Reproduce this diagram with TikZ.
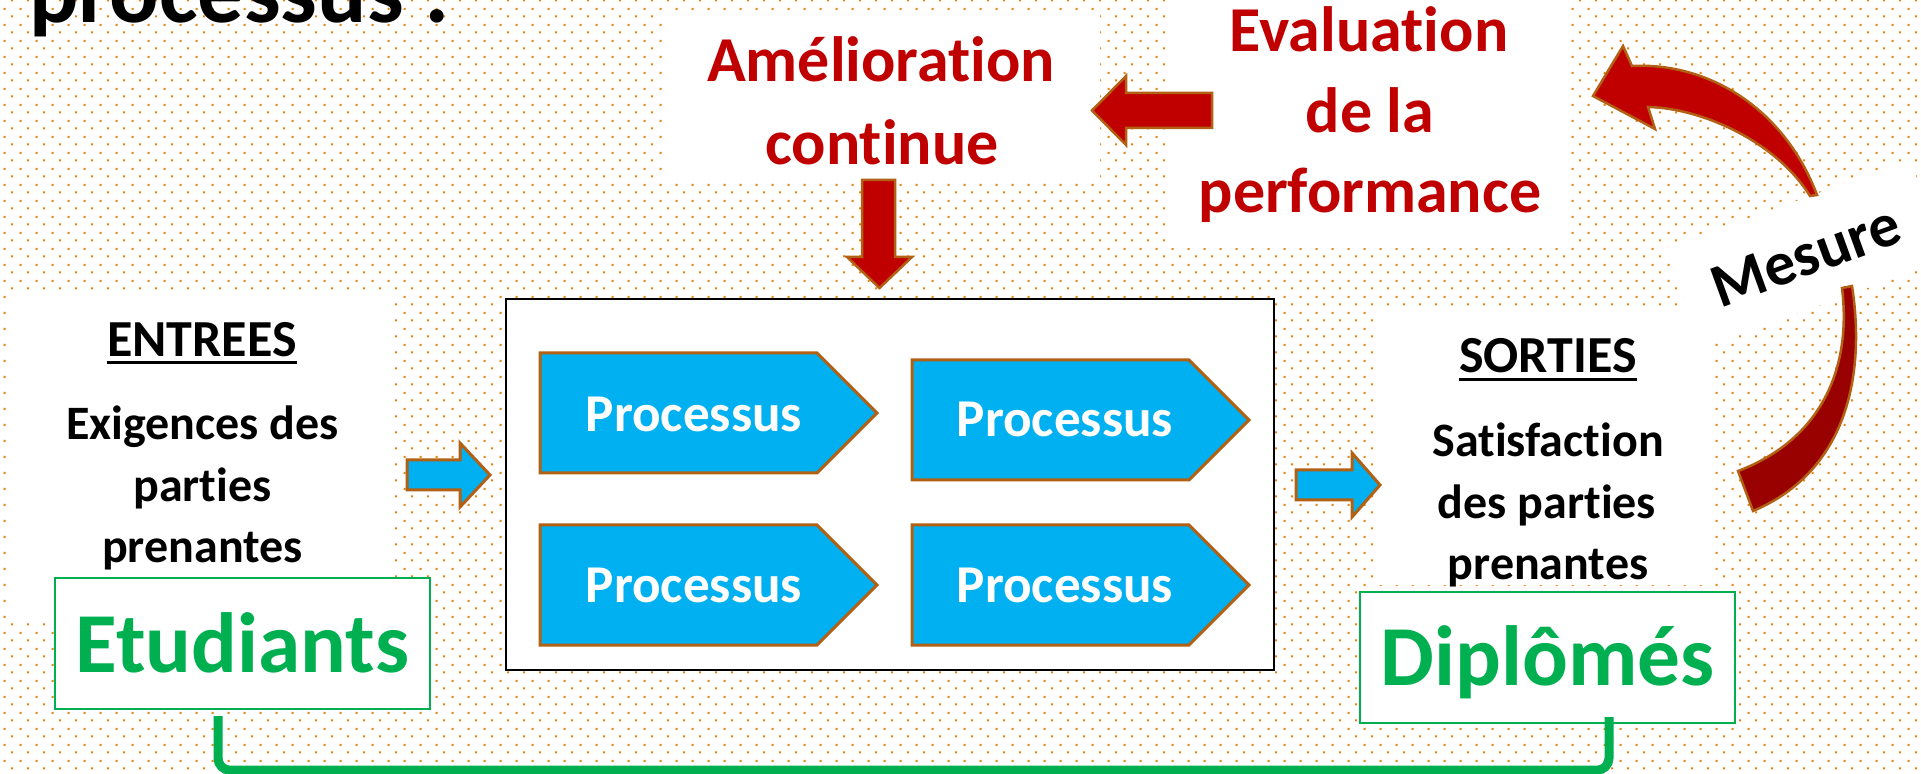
\documentclass[tikz,border=0pt]{standalone}
\usepackage{fontspec}
\setmainfont{Carlito}[Ligatures=NoCommon]
\usetikzlibrary{patterns,calc}
\definecolor{dotorange}{RGB}{228,132,18}
\definecolor{darkred}{RGB}{192,0,0}
\definecolor{deepred}{RGB}{153,0,0}
\definecolor{edgebrown}{RGB}{178,96,20}
\definecolor{procblue}{RGB}{0,176,240}
\definecolor{okgreen}{RGB}{0,176,80}
\pgfdeclarepatternformonly{odots}{\pgfpointorigin}{\pgfpoint{8pt}{8pt}}{\pgfpoint{8pt}{8pt}}{%
  \pgfpathrectangle{\pgfpoint{2.45pt}{6.45pt}}{\pgfpoint{1.1pt}{1.1pt}}%
  \pgfpathrectangle{\pgfpoint{6.45pt}{2.45pt}}{\pgfpoint{1.1pt}{1.1pt}}%
  \pgfusepath{fill}%
}
\begin{document}
\begin{tikzpicture}[x=0.5pt,y=-0.5pt,
  whitebox/.style={fill=white, draw=none, inner sep=0pt, outer sep=0pt},
  txt/.style={inner sep=0pt, outer sep=0pt, anchor=base},
  redtxt/.style={txt, text=darkred, font=\bfseries\fontsize{32}{38}\selectfont},
  headtxt/.style={txt, text=black, font=\bfseries\fontsize{26}{31}\selectfont},
  blacktxt/.style={txt, text=black, font=\bfseries\fontsize{24}{29}\selectfont},
  proctxt/.style={txt, text=white, font=\bfseries\fontsize{26.6}{31}\selectfont},
  greenbox/.style={fill=white, draw=okgreen, line width=1.2pt, inner sep=0pt,
    minimum width=187.5pt, minimum height=65.5pt, text=okgreen,
    font=\bfseries\fontsize{42.7}{50}\selectfont},
  redarrow/.style={fill=darkred, draw=edgebrown, line width=1.25pt, line join=miter},
  deeparrow/.style={fill=deepred, draw=edgebrown, line width=1.25pt, line join=miter},
  bluearrow/.style={fill=procblue, draw=edgebrown, line width=1.5pt, line join=miter},
  procshape/.style={fill=procblue, draw=edgebrown, line width=1.5pt, line join=miter},
  link/.style={draw=okgreen, line width=4.5pt, rounded corners=6pt},
  procarrow/.pic={\path[procshape] (0,0) -- (277,0) -- (337,60) -- (277,120) -- (0,120) -- cycle;}
]
\path[use as bounding box] (0,0) rectangle (1921,774);
\clip (0,0) rectangle (1921,774);
% background
\fill[white] (0,0) rectangle (1921,774);
\fill[pattern=odots, pattern color=dotorange] (0,0) rectangle (1921,774);

% title
\node[txt, anchor=base west, font=\bfseries\fontsize{46}{55}\selectfont] (title) at (29,23) {processus :};

% white text boxes
\node[whitebox, minimum width=218.5pt, minimum height=82.5pt] (amelbox) at (881.5,97.5) {};
\node[whitebox, minimum width=200pt, minimum height=124pt] (evalbox) at (1367,124) {};
\node[whitebox, minimum width=191.5pt, minimum height=163.5pt] (inbox) at (201.5,456.5) {};
\node[whitebox, minimum width=167.5pt, minimum height=137pt] (outbox) at (1545.5,448) {};

% Amelioration continue
\node[redtxt] (amel1) at (881,82) {Amélioration};
\node[redtxt] (amel2) at (882,165) {continue};

% Evaluation de la performance
\node[redtxt] (eval1) at (1369,52) {Evaluation};
\node[redtxt] (eval2) at (1370,133) {de la};
\node[redtxt] (eval3) at (1370,213) {performance};

% ENTREES
\node[headtxt] (entrees) at (202,357) {ENTREES};
\draw[line width=1.5pt] ($(entrees.base west)+(0,6)$) -- ($(entrees.base east)+(0,6)$);
\node[blacktxt] (in1) at (202.5,440) {Exigences des};
\node[blacktxt] (in2) at (202.5,502) {parties};
\node[blacktxt] (in3) at (202.5,562) {prenantes};

% SORTIES
\node[headtxt] (sorties) at (1548,373) {SORTIES};
\draw[line width=1.5pt] ($(sorties.base west)+(0,7)$) -- ($(sorties.base east)+(0,7)$);
\node[blacktxt] (out1) at (1548,457) {Satisfaction};
\node[blacktxt] (out2) at (1547,519) {des parties};
\node[blacktxt] (out3) at (1548,580) {prenantes};

% process container
\node[draw=black, fill=white, line width=1pt, inner sep=0pt,
  minimum width=384pt, minimum height=185.5pt] (proc) at (890,484.5) {};
\pic at (540,353) {procarrow};
\pic at (912,360) {procarrow};
\pic at (540,525) {procarrow};
\pic at (912,525) {procarrow};
\node[proctxt] (p1) at (694,432) {Processus};
\node[proctxt] (p2) at (1065,437) {Processus};
\node[proctxt] (p3) at (694,602) {Processus};
\node[proctxt] (p4) at (1065,602) {Processus};

% blue arrows
\path[bluearrow] (407,460) -- (460,460) -- (460,443) -- (490,475) -- (460,507) -- (460,490) -- (407,490) -- cycle;
\path[bluearrow] (1296,470) -- (1352,470) -- (1352,453) -- (1380,485) -- (1352,517) -- (1352,500) -- (1296,500) -- cycle;

% red arrows
\path[redarrow] (862,180) -- (895,180) -- (895,257) -- (912,257) -- (879.5,288) -- (847,257) -- (862,257) -- cycle;
\path[redarrow] (1212,93) -- (1126,93) -- (1126,76) -- (1092,110.5) -- (1126,145) -- (1126,128) -- (1212,128) -- cycle;

% Mesure
\fill[white, rotate around={20:(1806,254)}] (1676,201) rectangle (1936,307);
\node[txt, anchor=center, rotate=20, font=\bfseries\fontsize{31}{36}\selectfont] (mesure) at (1806,256) {Mesure};
\path[redarrow] (1817,195) .. controls (1785,110) and (1710,62) .. (1632,66)
  -- (1623,46) -- (1593,96) -- (1655,129) -- (1648,107)
  .. controls (1700,108) and (1775,140) .. (1810,196) -- cycle;
\path[deeparrow] (1842,288) -- (1852,286) .. controls (1865,370) and (1850,470) .. (1753,511)
  -- (1738,471) .. controls (1820,440) and (1852,370) .. (1842,288) -- cycle;

% Etudiants / Diplomes
\node[greenbox, text height=28.5pt, text depth=0pt] (etud) at (242.5,643.5) {Etudiants};
\node[greenbox, text height=27.5pt, text depth=0pt] (dipl) at (1547.5,657.5) {Diplômés};
\draw[link] ($(etud.south)+(-24.5,6)$) -- ($(etud.south)+(-24.5,60)$) -| ($(dipl.south)+(61.5,-7)$);
\end{tikzpicture}
\end{document}
